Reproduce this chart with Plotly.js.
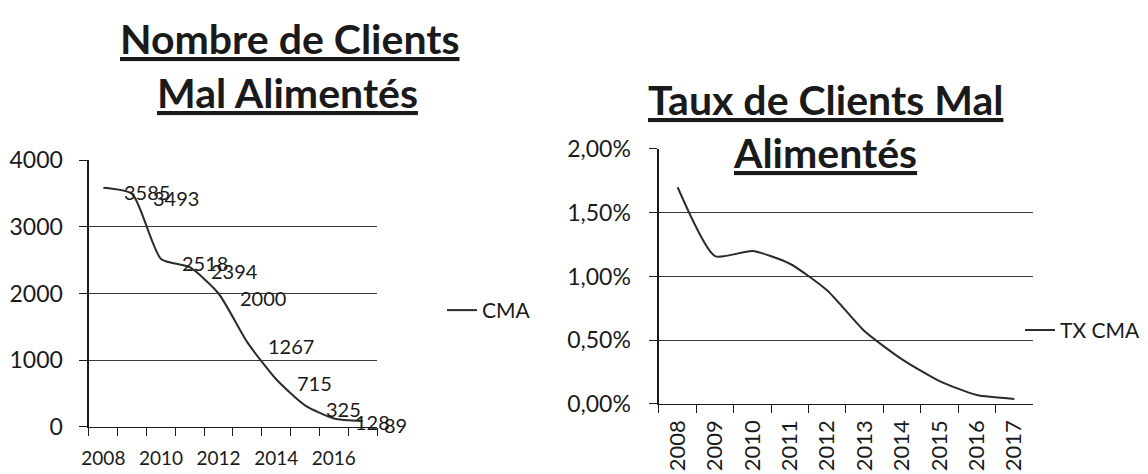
<!DOCTYPE html>
<html>
<head>
<meta charset="utf-8">
<script src="https://cdn.plot.ly/plotly-3.0.1.min.js"></script>
<style>
  body { margin: 0; background: #fff; }
  #chart { width: 1148px; height: 474px; }
</style>
</head>
<body>
<div id="chart"></div>
<script>
// years shared by both charts
var years = ['2008', '2009', '2010', '2011', '2012', '2013', '2014', '2015', '2016', '2017'];
var yearLabelsLeft = ['2008', '', '2010', '', '2012', '', '2014', '', '2016', ''];

// number of badly supplied customers
var cma = [3585, 3493, 2518, 2394, 2000, 1267, 715, 325, 128, 89];
// rate of badly supplied customers
var txCma = [0.0170, 0.0116, 0.0120, 0.0110, 0.0089, 0.0057, 0.0035, 0.0018, 0.0007, 0.0004];

var titleLeft = ['Nombre de Clients', 'Mal Alimentés'];
var titleRight = ['Taux de Clients Mal', 'Alimentés'];

var fontFam = 'Lato, "Open Sans", sans-serif';
var ink = '#1a1a1a';

var traces = [
  {
    x: years, y: cma, name: 'CMA',
    type: 'scatter', mode: 'lines',
    line: {color: '#2b2b2b', width: 2, shape: 'spline', smoothing: 0.6},
    xaxis: 'x', yaxis: 'y', legend: 'legend'
  },
  {
    x: years, y: txCma, name: 'TX CMA',
    type: 'scatter', mode: 'lines',
    line: {color: '#2b2b2b', width: 2, shape: 'spline', smoothing: 0.6},
    xaxis: 'x2', yaxis: 'y2', legend: 'legend2'
  }
];

// data labels, to the right of each point (category axis -> use the index)
var labels = years.map(function (yr, i) {
  return {
    x: i, y: cma[i], xref: 'x', yref: 'y',
    text: String(cma[i]), showarrow: false,
    xanchor: 'left', yanchor: 'middle', xshift: 19, yshift: -4,
    font: {size: 20, family: fontFam, color: ink}
  };
});

var axisCommon = {
  showline: true, linecolor: ink, linewidth: 1.5,
  ticks: 'outside', ticklen: 8, tickcolor: ink,
  zeroline: false, fixedrange: true
};

var titles = [
  {text: titleLeft[0], x: 0.2526, y: 1 - 38 / 474},
  {text: titleLeft[1], x: 0.2500, y: 1 - 93 / 474},
  {text: titleRight[0], x: 0.7195, y: 1 - 100 / 474},
  {text: titleRight[1], x: 0.7187, y: 1 - 153 / 474}
].map(function (a) {
  return {
    text: '<b><u>' + a.text + '</u></b>',
    x: a.x, y: a.y, xref: 'paper', yref: 'paper',
    xanchor: 'center', yanchor: 'middle', showarrow: false,
    font: {size: 41, family: fontFam, color: ink}
  };
});

var layout = {
  width: 1148, height: 474,
  margin: {l: 0, r: 0, t: 0, b: 0},
  paper_bgcolor: '#fff', plot_bgcolor: '#fff',
  separators: ', ',
  font: {family: fontFam, color: ink},
  showlegend: true,
  xaxis: Object.assign({}, axisCommon, {
    domain: [0.0775, 0.3284], anchor: 'y',
    type: 'category', tickson: 'boundaries', range: [-0.5, 9.5],
    tickmode: 'array', tickvals: years, ticktext: yearLabelsLeft,
    tickangle: 0, ticklabelstandoff: 14,
    showgrid: false, tickfont: {size: 19, family: fontFam, color: ink}
  }),
  yaxis: Object.assign({}, axisCommon, {
    domain: [0.0992, 0.6624], anchor: 'x',
    range: [0, 4000], dtick: 1000, ticklabelstandoff: 12,
    showgrid: true, gridcolor: '#3a3a3a', gridwidth: 1,
    tickfont: {size: 23, family: fontFam, color: ink}
  }),
  xaxis2: Object.assign({}, axisCommon, {
    domain: [0.574, 0.8998], anchor: 'y2',
    type: 'category', tickson: 'boundaries', range: [-0.5, 9.5],
    tickangle: -90, ticklabelstandoff: 6,
    showgrid: false, tickfont: {size: 22, family: fontFam, color: ink}
  }),
  yaxis2: Object.assign({}, axisCommon, {
    domain: [0.1477, 0.6857], anchor: 'x2',
    range: [0, 0.02], dtick: 0.005, tickformat: '.2%', ticklabelstandoff: 14,
    showgrid: true, gridcolor: '#3a3a3a', gridwidth: 1,
    tickfont: {size: 23, family: fontFam, color: ink}
  }),
  legend: {
    x: 0.385, y: 0.345, xanchor: 'left', yanchor: 'middle',
    bgcolor: 'rgba(0,0,0,0)', font: {size: 21, family: fontFam, color: ink}
  },
  legend2: {
    x: 0.8885, y: 0.303, xanchor: 'left', yanchor: 'middle',
    bgcolor: 'rgba(0,0,0,0)', font: {size: 21, family: fontFam, color: ink}
  },
  annotations: labels.concat(titles)
};

Plotly.newPlot('chart', traces, layout, {staticPlot: true});
</script>
</body>
</html>
